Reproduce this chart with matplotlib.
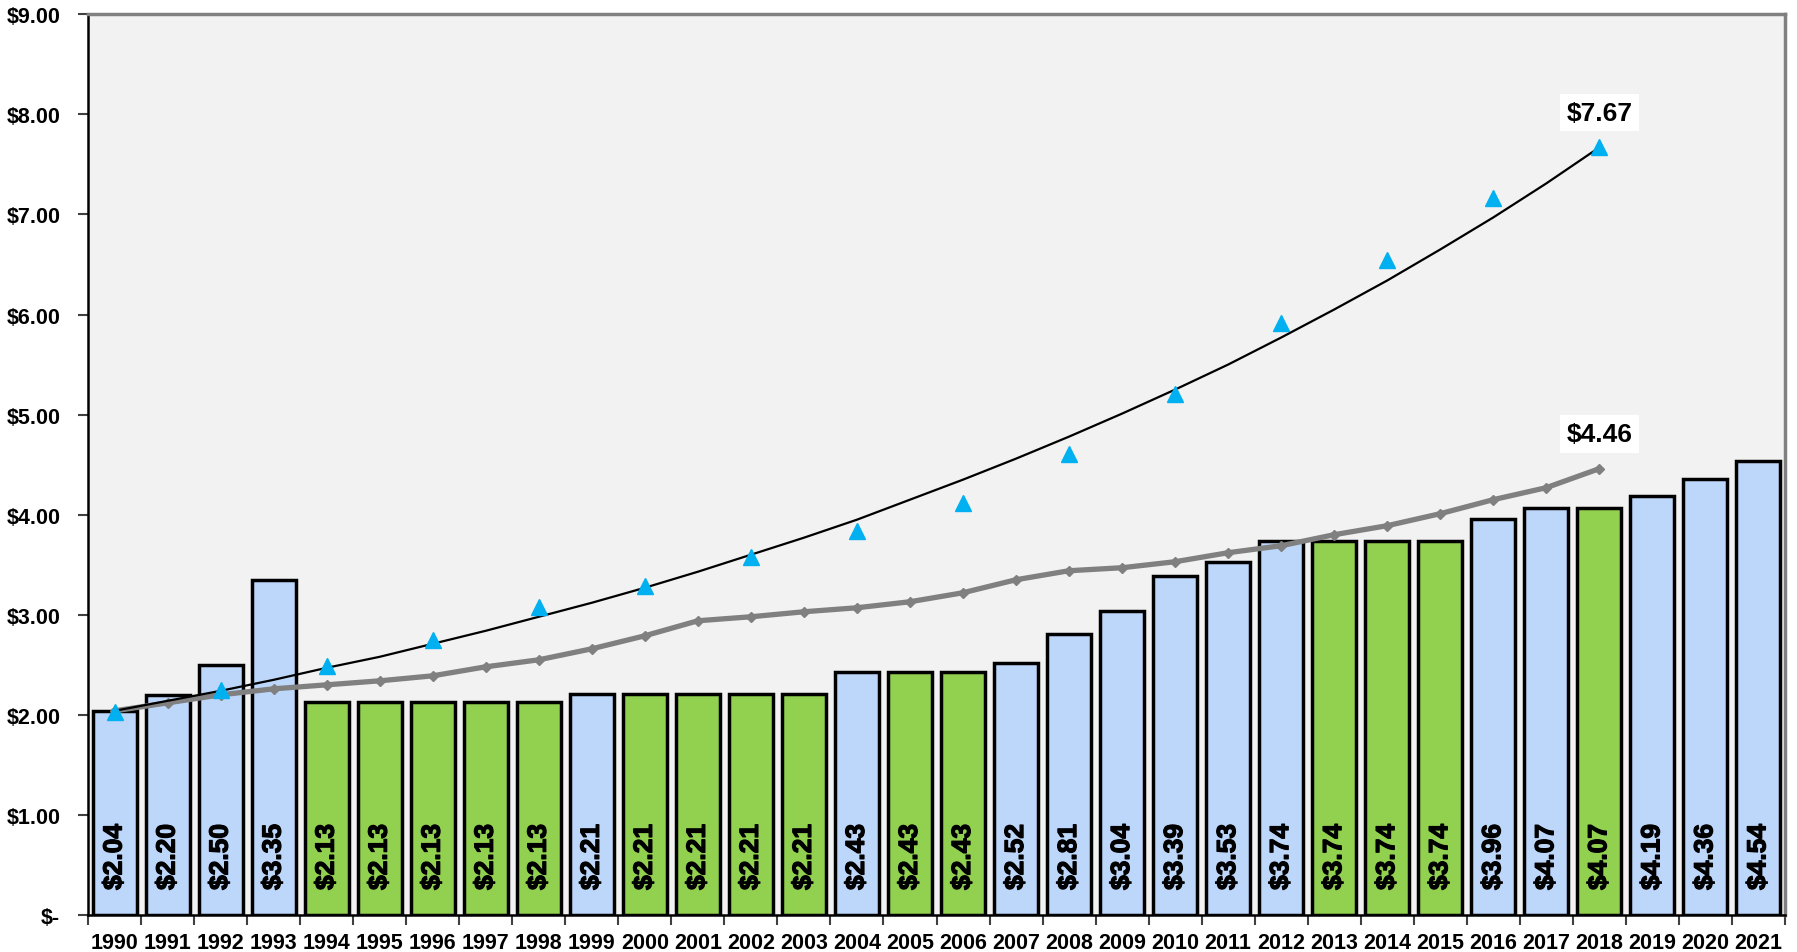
import numpy as np
import matplotlib.pyplot as plt
import matplotlib.patheffects as pe
from matplotlib.ticker import FuncFormatter, MultipleLocator

plt.rcParams['font.family'] = ['Liberation Sans', 'DejaVu Sans']
plt.rcParams['font.weight'] = 'bold'

# bars, 1990-2021
years = list(range(1990, 2022))
prices = [2.04, 2.20, 2.50, 3.35, 2.13, 2.13, 2.13, 2.13, 2.13, 2.21,
          2.21, 2.21, 2.21, 2.21, 2.43, 2.43, 2.43, 2.52, 2.81, 3.04,
          3.39, 3.53, 3.74, 3.74, 3.74, 3.74, 3.96, 4.07, 4.07, 4.19,
          4.36, 4.54]
green_years = [1994, 1995, 1996, 1997, 1998, 2000, 2001, 2002, 2003,
               2005, 2006, 2013, 2014, 2015, 2018]

# gray diamond line, 1990-2018
gray_years = list(range(1990, 2019))
gray_vals = [2.04, 2.12, 2.20, 2.26, 2.30, 2.34, 2.39, 2.48, 2.55, 2.66,
             2.79, 2.94, 2.98, 3.03, 3.07, 3.13, 3.22, 3.35, 3.44, 3.47,
             3.53, 3.62, 3.69, 3.80, 3.89, 4.01, 4.15, 4.27, 4.46]

# blue triangles, every second year
tri_years = list(range(1990, 2019, 2))
tri_vals = [2.03, 2.25, 2.49, 2.75, 3.08, 3.29, 3.58, 3.84, 4.12, 4.61,
            5.21, 5.92, 6.54, 7.16, 7.67]

curve_vals = [2.04, 2.14, 2.24, 2.35, 2.47, 2.58, 2.71, 2.84, 2.98, 3.12,
              3.27, 3.43, 3.60, 3.77, 3.95, 4.15, 4.35, 4.56, 4.78, 5.01,
              5.25, 5.50, 5.77, 6.05, 6.34, 6.65, 6.97, 7.31, 7.67]

blue = '#BDD7FB'
green = '#92D050'

fig = plt.figure(figsize=(17.97, 9.53), dpi=100)
ax = fig.add_axes([0.049, 0.0388, 0.9443, 0.9452])
ax.set_facecolor('#F2F2F2')

x = np.arange(len(years))
colors = [green if y in green_years else blue for y in years]
ax.bar(x, prices, width=0.83, color=colors, edgecolor='black', linewidth=2.5, zorder=2)

thick = [pe.withStroke(linewidth=0.9, foreground='black')]
for xi, p in zip(x, prices):
    ax.text(xi, 0.25, '$%.2f' % p, rotation=90, ha='center', va='bottom',
            fontsize=19, fontweight='bold', zorder=5, path_effects=thick)

gx = [years.index(y) for y in gray_years]
ax.plot(gx, gray_vals, color='#808080', linewidth=3.8, marker='D', markersize=5.5, zorder=3)

ax.plot(gx, curve_vals, color='black', linewidth=1.6, zorder=4)

tx = [years.index(y) for y in tri_years]
ax.plot(tx, tri_vals, linestyle='none', marker='^', markersize=12, color='#00B0F0', zorder=4)

ax.annotate('$7.67', (tx[-1], tri_vals[-1]), xytext=(0, 25), textcoords='offset points',
            ha='center', va='center', fontsize=19, fontweight='bold',
            bbox=dict(boxstyle='square,pad=0.25', fc='white', ec='none'), zorder=6)
ax.annotate('$4.46', (gx[-1], gray_vals[-1]), xytext=(0, 25), textcoords='offset points',
            ha='center', va='center', fontsize=19, fontweight='bold',
            bbox=dict(boxstyle='square,pad=0.25', fc='white', ec='none'), zorder=6)

ax.set_xlim(-0.5, len(years) - 0.5)
ax.set_ylim(0, 9)
ax.yaxis.set_major_locator(MultipleLocator(1))
ax.yaxis.set_major_formatter(FuncFormatter(lambda v, p: '$-' if v == 0 else '$%.2f' % v))

ax.set_xticks(x)
ax.set_xticklabels([str(y) for y in years])
ax.set_xticks(np.arange(-0.5, len(years), 1), minor=True)
ax.tick_params(axis='x', which='major', length=0, pad=12, labelsize=15.5)
ax.tick_params(axis='x', which='minor', length=7, width=1.5, color='#404040')
ax.tick_params(axis='y', length=7, width=1.5, color='#404040', labelsize=15.5, pad=13)
for lbl in ax.get_xticklabels() + ax.get_yticklabels():
    lbl.set_fontweight('bold')

ax.spines['left'].set_color('black')
ax.spines['left'].set_linewidth(1.8)
ax.spines['bottom'].set_color('black')
ax.spines['bottom'].set_linewidth(1.8)
ax.spines['top'].set_color('#808080')
ax.spines['top'].set_linewidth(2.5)
ax.spines['right'].set_color('#808080')
ax.spines['right'].set_linewidth(2.5)

fig.savefig('out.png', dpi=100)
